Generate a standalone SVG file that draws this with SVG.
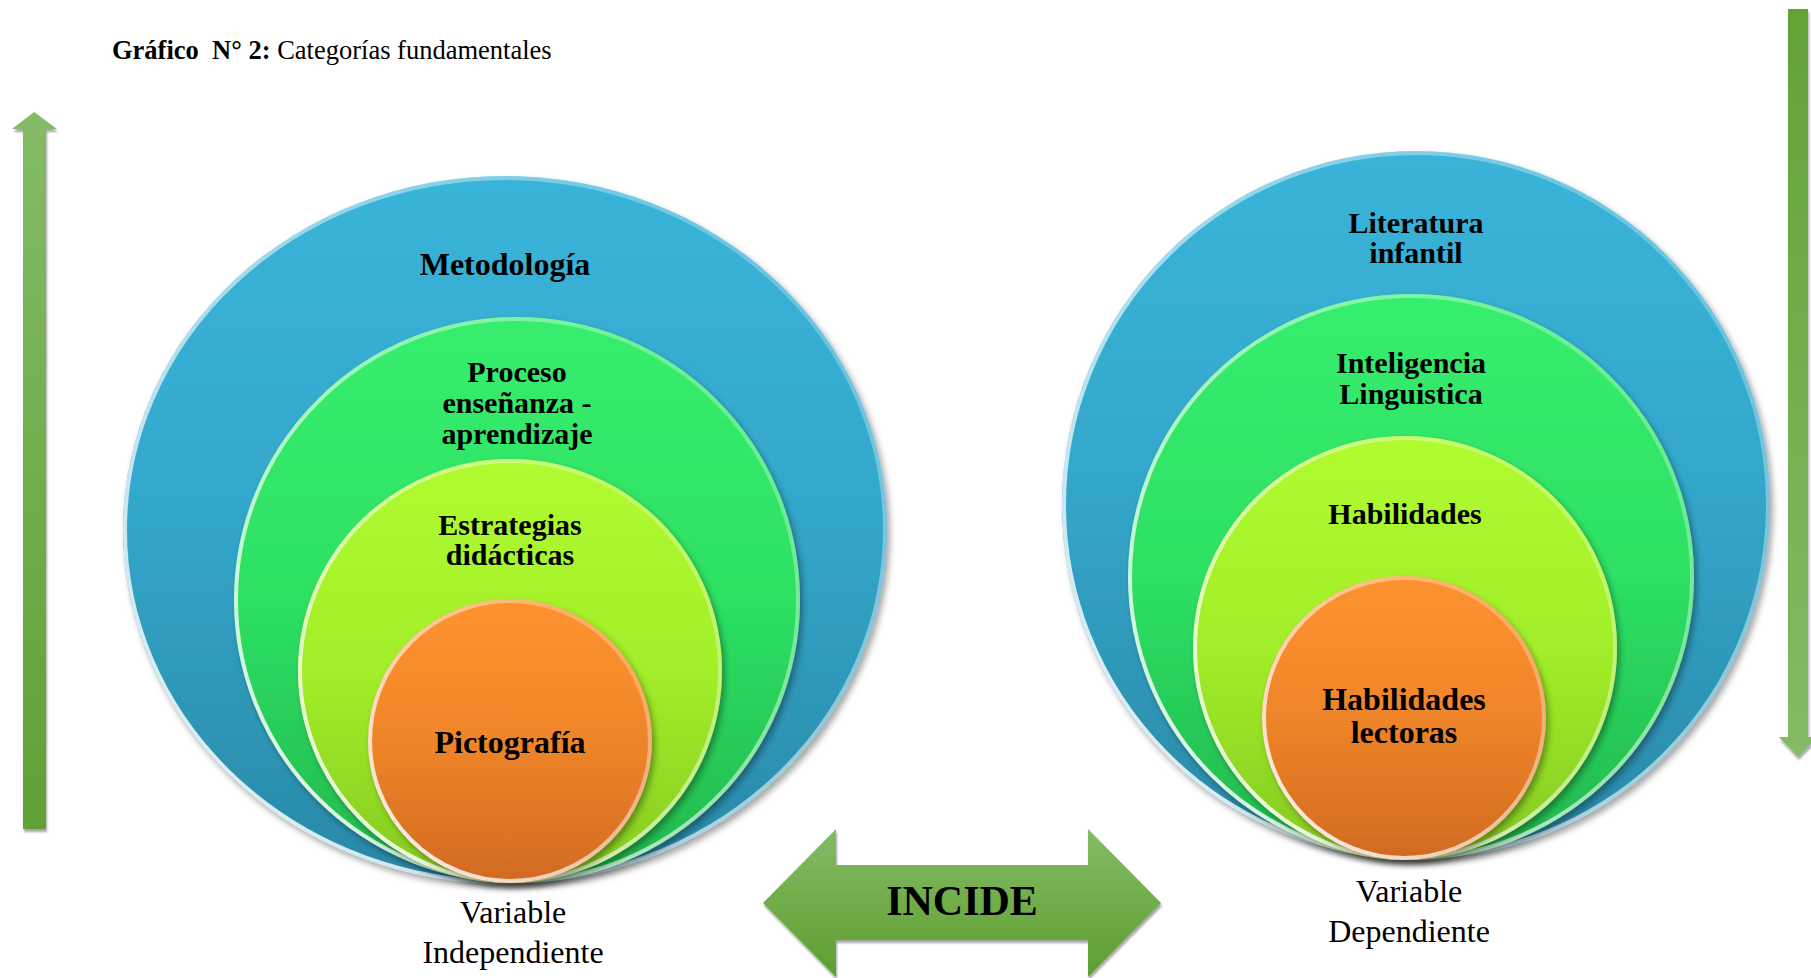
<svg xmlns="http://www.w3.org/2000/svg" width="1811" height="978" viewBox="0 0 1811 978">
<style>
.lbl{font-family:"Liberation Serif","Times New Roman",serif;font-weight:bold;font-size:32px;fill:#000;text-anchor:middle}
.sm{font-size:30px}
.var{font-family:"Liberation Serif","Times New Roman",serif;font-size:32px;fill:#000;text-anchor:middle}
.rim{fill:none;stroke:url(#rim);stroke-width:4}
</style>
<defs>
<linearGradient id="gBlue" x1="0" y1="0" x2="0" y2="1"><stop offset="0" stop-color="#3ab4d9"/><stop offset="0.45" stop-color="#33a8cc"/><stop offset="1" stop-color="#2a88a6"/></linearGradient>
<linearGradient id="gGreen" x1="0" y1="0" x2="0" y2="1"><stop offset="0" stop-color="#37ee6e"/><stop offset="0.5" stop-color="#2de063"/><stop offset="1" stop-color="#22b64e"/></linearGradient>
<linearGradient id="gLime" x1="0" y1="0" x2="0" y2="1"><stop offset="0" stop-color="#b0fb30"/><stop offset="0.5" stop-color="#a2ee29"/><stop offset="1" stop-color="#85c922"/></linearGradient>
<linearGradient id="gOrange" x1="0" y1="0" x2="0" y2="1"><stop offset="0" stop-color="#fd932f"/><stop offset="0.5" stop-color="#ef8529"/><stop offset="1" stop-color="#d16a1f"/></linearGradient>
<linearGradient id="rim" x1="0" y1="1" x2="1" y2="0"><stop offset="0" stop-color="#fff" stop-opacity="0.95"/><stop offset="0.5" stop-color="#fff" stop-opacity="0.55"/><stop offset="1" stop-color="#fff" stop-opacity="0.15"/></linearGradient>
<linearGradient id="gArrowUp" x1="0" y1="0" x2="0" y2="1"><stop offset="0" stop-color="#85bb67"/><stop offset="1" stop-color="#61a034"/></linearGradient>
<linearGradient id="gArrowDown" x1="0" y1="0" x2="0" y2="1"><stop offset="0" stop-color="#63a235"/><stop offset="1" stop-color="#84bb66"/></linearGradient>
<linearGradient id="gIncide" x1="0" y1="0" x2="0" y2="1"><stop offset="0" stop-color="#84bb66"/><stop offset="1" stop-color="#5e9e2f"/></linearGradient>
<filter id="sh" x="-10%" y="-10%" width="120%" height="120%"><feDropShadow dx="3" dy="4" stdDeviation="3" flood-color="#000" flood-opacity="0.35"/></filter>
<filter id="ash" x="-10%" y="-10%" width="120%" height="120%"><feDropShadow dx="1" dy="3" stdDeviation="1" flood-color="#000" flood-opacity="0.35"/></filter>
</defs>
<rect width="1811" height="978" fill="#fff"/>

<g id="title">
<text x="112" y="59" xml:space="preserve" style="white-space:pre" font-family="Liberation Serif, Times New Roman, serif" font-size="26.5" fill="#000"><tspan font-weight="bold">Gráfico  N° 2:</tspan> Categorías fundamentales</text>
</g>

<g id="connectors">
<polygon id="arrow-up" filter="url(#ash)" fill="url(#gArrowUp)" points="34,112 12,129 23,129 23,829 46,829 46,129 57,129"/>
<polygon id="arrow-down" filter="url(#ash)" fill="url(#gArrowDown)" points="1788,9 1808,9 1808,737 1817,737 1798,757 1779,737 1788,737"/>
<polygon id="arrow-incide" filter="url(#ash)" fill="url(#gIncide)" points="763,903 836,829 836,865 1088,865 1088,829 1161,903 1088,977 1088,940 836,940 836,977"/>
</g>

<g id="incide-label"><text x="962" y="915" font-family="Liberation Serif, Times New Roman, serif" font-weight="bold" font-size="42" text-anchor="middle" fill="#000">INCIDE</text></g>

<g id="left-set">
<g id="metodologia">
<ellipse cx="505" cy="530" rx="382" ry="354" fill="url(#gBlue)" filter="url(#sh)"/>
<ellipse class="rim" cx="505" cy="530" rx="380" ry="352"/>
<text class="lbl" x="505" y="275">Metodología</text>
</g>
<g id="proceso">
<circle cx="517" cy="600" r="283" fill="url(#gGreen)" filter="url(#sh)"/>
<circle class="rim" cx="517" cy="600" r="281"/>
<text class="lbl sm" x="517" y="382">Proceso</text>
<text class="lbl sm" x="517" y="413">enseñanza -</text>
<text class="lbl sm" x="517" y="444">aprendizaje</text>
</g>
<g id="estrategias">
<circle cx="510" cy="671" r="212" fill="url(#gLime)" filter="url(#sh)"/>
<circle class="rim" cx="510" cy="671" r="210"/>
<text class="lbl sm" x="510" y="535">Estrategias</text>
<text class="lbl sm" x="510" y="565">didácticas</text>
</g>
<g id="pictografia">
<circle cx="510" cy="741" r="142" fill="url(#gOrange)" filter="url(#sh)"/>
<circle class="rim" cx="510" cy="741" r="140"/>
<text class="lbl" x="510" y="753">Pictografía</text>
</g>
<g id="var-indep">
<text class="var" x="513" y="923">Variable</text>
<text class="var" x="513" y="963">Independiente</text>
</g>
</g>

<g id="right-set">
<g id="literatura">
<circle cx="1416" cy="505" r="354" fill="url(#gBlue)" filter="url(#sh)"/>
<circle class="rim" cx="1416" cy="505" r="352"/>
<text class="lbl sm" x="1416" y="233">Literatura</text>
<text class="lbl sm" x="1416" y="263">infantil</text>
</g>
<g id="inteligencia">
<circle cx="1411" cy="577" r="283" fill="url(#gGreen)" filter="url(#sh)"/>
<circle class="rim" cx="1411" cy="577" r="281"/>
<text class="lbl sm" x="1411" y="373">Inteligencia</text>
<text class="lbl sm" x="1411" y="404">Linguistica</text>
</g>
<g id="habilidades">
<circle cx="1405" cy="648" r="212" fill="url(#gLime)" filter="url(#sh)"/>
<circle class="rim" cx="1405" cy="648" r="210"/>
<text class="lbl sm" x="1405" y="524">Habilidades</text>
</g>
<g id="habilidades-lectoras">
<circle cx="1404" cy="718" r="142" fill="url(#gOrange)" filter="url(#sh)"/>
<circle class="rim" cx="1404" cy="718" r="140"/>
<text class="lbl" x="1404" y="710">Habilidades</text>
<text class="lbl" x="1404" y="743">lectoras</text>
</g>
<g id="var-dep">
<text class="var" x="1409" y="902">Variable</text>
<text class="var" x="1409" y="942">Dependiente</text>
</g>
</g>
</svg>
